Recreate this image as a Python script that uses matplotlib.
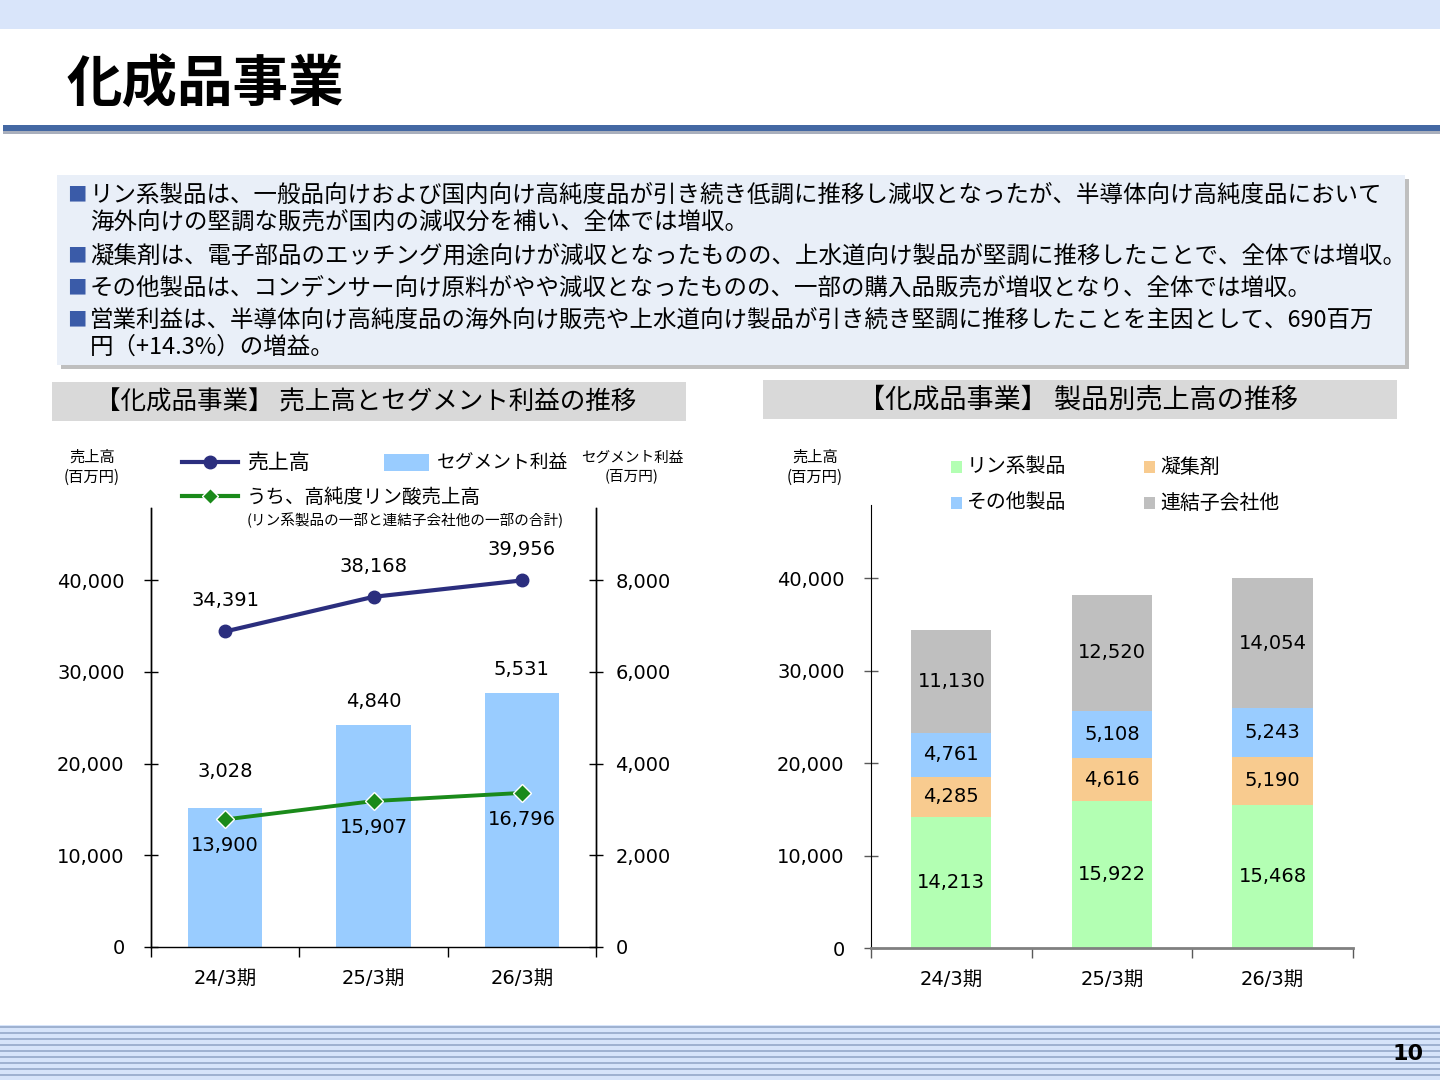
import numpy as np
import matplotlib
matplotlib.use("Agg")
import matplotlib.pyplot as plt
from matplotlib.patches import Rectangle
from matplotlib.lines import Line2D

# ---------------- data ----------------
periods = ['24/3期', '25/3期', '26/3期']
sales = [34391, 38168, 39956]              # 売上高
segment_profit = [3028, 4840, 5531]        # セグメント利益
hp_phos_sales = [13900, 15907, 16796]      # うち、高純度リン酸売上高

phos_products = [14213, 15922, 15468]      # リン系製品
coagulant = [4285, 4616, 5190]             # 凝集剤
other_products = [4761, 5108, 5243]        # その他製品
subsidiaries = [11130, 12520, 14054]       # 連結子会社他

left_yticks = [0, 10000, 20000, 30000, 40000]
right_yticks = [0, 2000, 4000, 6000, 8000]

bullets = [
    ('■', 'リン系製品は、一般品向けおよび国内向け高純度品が引き続き低調に推移し減収となったが、半導体向け高純度品において'),
    ('', '海外向けの堅調な販売が国内の減収分を補い、全体では増収。'),
    ('■', '凝集剤は、電子部品のエッチング用途向けが減収となったものの、上水道向け製品が堅調に推移したことで、全体では増収。'),
    ('■', 'その他製品は、コンデンサー向け原料がやや減収となったものの、一部の購入品販売が増収となり、全体では増収。'),
    ('■', '営業利益は、半導体向け高純度品の海外向け販売や上水道向け製品が引き続き堅調に推移したことを主因として、690百万'),
    ('', '円（+14.3%）の増益。'),
]

# ---------------- style ----------------
JP = ['Noto Sans CJK JP', 'DejaVu Sans']
NUM = ['DejaVu Sans', 'Noto Sans CJK JP']
plt.rcParams['font.family'] = NUM

NAVY = '#2B2E7E'
GREEN = '#1A8A1A'
BAR_BLUE = '#99CCFF'
C_PHOS = '#B3FFB3'
C_COAG = '#F8CB8F'
C_OTHER = '#99CCFF'
C_SUBS = '#BFBFBF'

W, H = 1440, 1080
fig = plt.figure(figsize=(W / 100, H / 100), dpi=100)

bg = fig.add_axes([0, 0, 1, 1], zorder=0)
bg.set_xlim(0, W)
bg.set_ylim(H, 0)
bg.axis('off')

# top band
bg.add_patch(Rectangle((0, 0), W, 29, color='#D9E5FA', lw=0))
# title
bg.text(67, 85, '化成品事業', family=JP, fontsize=40, fontweight='bold',
        va='center', ha='left', color='black')
# title underline with shadow
bg.add_patch(Rectangle((3, 130), W, 4, color='#A9AFBC', lw=0))
bg.add_patch(Rectangle((3, 125), W, 6, color='#4468A3', lw=0))

# text box with shadow
bg.add_patch(Rectangle((61, 179), 1348, 190, color='#BFBFBF', lw=0))
bg.add_patch(Rectangle((57, 175), 1348, 190, color='#E9EFF8', lw=0))
line_y = [195, 222, 256, 288, 320, 347]
for (b, t), y in zip(bullets, line_y):
    if b:
        bg.text(67, y, b, family=JP, fontsize=14, color='#3A5BA8', va='center', ha='left')
    bg.text(90, y, t, family=JP, fontsize=16.9, color='black', va='center', ha='left')

# section headers
bg.add_patch(Rectangle((52, 382), 634, 39, color='#D9D9D9', lw=0))
bg.text(366, 403, '【化成品事業】 売上高とセグメント利益の推移', family=JP, fontsize=18.4,
        va='center', ha='center', color='black')
bg.add_patch(Rectangle((763, 380), 634, 39, color='#D9D9D9', lw=0))
bg.text(1078, 400, '【化成品事業】 製品別売上高の推移', family=JP, fontsize=19.5,
        va='center', ha='center', color='black')

# axis unit labels
bg.text(92, 467, '売上高\n(百万円)', family=JP, fontsize=11, ha='center', va='center',
        linespacing=1.25)
bg.text(632, 467, 'セグメント利益\n(百万円)', family=JP, fontsize=10.5, ha='center', va='center',
        linespacing=1.35)
bg.text(815, 467, '売上高\n(百万円)', family=JP, fontsize=11, ha='center', va='center',
        linespacing=1.25)

# left legend (manual)
bg.add_line(Line2D([182, 238], [462, 462], color=NAVY, lw=3))
bg.add_line(Line2D([210], [462], marker='o', color=NAVY, markersize=9, lw=0))
bg.text(247, 463, '売上高', family=JP, fontsize=15, va='center', ha='left')
bg.add_patch(Rectangle((384, 454), 45, 17, color=BAR_BLUE, lw=0))
bg.text(437, 463, 'セグメント利益', family=JP, fontsize=13.5, va='center', ha='left')
bg.add_line(Line2D([182, 238], [496, 496], color=GREEN, lw=3))
bg.add_line(Line2D([210], [496], marker='D', color=GREEN, markeredgecolor='white',
                   markersize=8, lw=0))
bg.text(247, 497, 'うち、高純度リン酸売上高', family=JP, fontsize=14, va='center', ha='left')
bg.text(247, 520, '(リン系製品の一部と連結子会社他の一部の合計)', family=JP, fontsize=10.5,
        va='center', ha='left')

# right legend (manual)
leg_items = [(956, 467, C_PHOS, 'リン系製品'), (1149, 467, C_COAG, '凝集剤'),
             (956, 503, C_OTHER, 'その他製品'), (1149, 503, C_SUBS, '連結子会社他')]
for x, y, c, lab in leg_items:
    bg.add_patch(Rectangle((x - 5, y - 6), 11, 12, color=c, lw=0))
    bg.text(x + 11, y, lab, family=JP, fontsize=14.3, va='center', ha='left')

# bottom stripes
bg.add_patch(Rectangle((0, 1025), W, 55, color='#D6E4FA', lw=0))
for y in np.arange(1026.5, 1081, 6):
    bg.add_line(Line2D([0, W], [y, y], color='#94A9C9', lw=1.2))
bg.text(1424, 1054, '10', fontsize=16, fontweight='bold', ha='right', va='center')


def px_axes(x0, y0, x1, y1):
    return fig.add_axes([x0 / W, (H - y1) / H, (x1 - x0) / W, (y1 - y0) / H], zorder=2)


# ---------------- left chart ----------------
axL = px_axes(151, 508, 596, 947)
x = np.arange(len(periods))
axR = axL.twinx()
axR.patch.set_alpha(0)
axR.set_zorder(axL.get_zorder() - 1)  # bars behind lines
axL.patch.set_visible(False)

axR.bar(x, segment_profit, width=0.5, color=BAR_BLUE, zorder=1)
axR.set_ylim(0, 9570)
axL.set_ylim(0, 47850)
axL.set_xlim(-0.5, 2.5)
axR.set_xlim(-0.5, 2.5)

axL.plot(x, sales, color=NAVY, lw=3, marker='o', markersize=9, zorder=5)
axL.plot(x, hp_phos_sales, color=GREEN, lw=2.8, marker='D', markersize=9,
         markeredgecolor='white', markeredgewidth=1, zorder=5)

for xi, v in zip(x, sales):
    axL.annotate(f'{v:,}', (xi, v), xytext=(0, 22), textcoords='offset points',
                 ha='center', va='center', fontsize=14)
for xi, v in zip(x, hp_phos_sales):
    axL.annotate(f'{v:,}', (xi, v), xytext=(0, -19), textcoords='offset points',
                 ha='center', va='center', fontsize=14)
profit_label_offsets = [26, 17, 17]
for xi, v, off in zip(x, segment_profit, profit_label_offsets):
    axR.annotate(f'{v:,}', (xi, v), xytext=(0, off), textcoords='offset points',
                 ha='center', va='center', fontsize=14)

axL.set_yticks(left_yticks)
axL.set_yticklabels([f'{v:,}' for v in left_yticks])
axR.set_yticks(right_yticks)
axR.set_yticklabels([f'{v:,}' for v in right_yticks])
axL.tick_params(axis='y', direction='inout', length=10, width=1, labelsize=14, pad=14)
axR.tick_params(axis='y', direction='inout', length=10, width=1, labelsize=14, pad=9)

for a in (axL, axR):
    a.spines['top'].set_visible(False)
    for s in ('left', 'right', 'bottom'):
        a.spines[s].set_color('black')
        a.spines[s].set_linewidth(1)
axR.spines['bottom'].set_visible(False)
axR.set_xticks([])

axL.set_xticks(x)
axL.set_xticklabels(periods)
axL.set_xticks([-0.5, 0.5, 1.5, 2.5], minor=True)
axL.tick_params(axis='x', which='major', length=0, labelsize=14, pad=16)
axL.tick_params(axis='x', which='minor', direction='out', length=7, width=1)

# ---------------- right chart ----------------
ax2 = px_axes(871, 505, 1353, 948)
ax2.patch.set_alpha(0)
series = [(phos_products, C_PHOS), (coagulant, C_COAG),
          (other_products, C_OTHER), (subsidiaries, C_SUBS)]
bottom = np.zeros(len(periods))
for vals, col in series:
    ax2.bar(x, vals, width=0.5, bottom=bottom, color=col, zorder=2)
    for xi, b, v in zip(x, bottom, vals):
        ax2.text(xi, b + v / 2, f'{v:,}', ha='center', va='center', fontsize=14, zorder=3)
    bottom = bottom + np.array(vals)

ax2.set_xlim(-0.5, 2.5)
ax2.set_ylim(0, 47900)
ax2.set_yticks(left_yticks)
ax2.set_yticklabels([f'{v:,}' for v in left_yticks])
ax2.tick_params(axis='y', direction='inout', length=10, width=1, color='#595959',
                labelsize=14, pad=14)
ax2.set_xticks(x)
ax2.set_xticklabels(periods)
ax2.set_xticks([-0.5, 0.5, 1.5, 2.5], minor=True)
ax2.tick_params(axis='x', which='major', length=0, labelsize=14, pad=16)
ax2.tick_params(axis='x', which='minor', direction='out', length=7, width=1, color='#595959')
ax2.spines['top'].set_visible(False)
ax2.spines['right'].set_visible(False)
ax2.spines['left'].set_color('black')
ax2.spines['bottom'].set_color('#808080')
ax2.spines['bottom'].set_linewidth(2)

fig.savefig('out.png', dpi=100)
